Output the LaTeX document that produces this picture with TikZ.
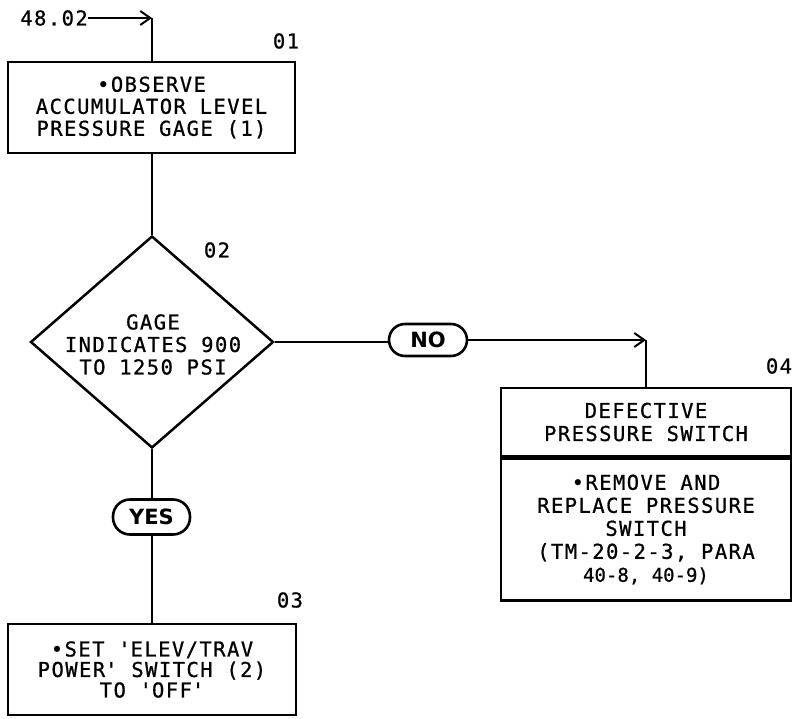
\documentclass[tikz,border=0pt]{standalone}
\usepackage{fontspec}
\usetikzlibrary{shapes.geometric,arrows.meta}
\newfontfamily\plotfont{DejaVu Sans Mono}[LetterSpace=7, FakeBold=0.8]
\newfontfamily\plotnarrow{DejaVu Sans Mono}[FakeBold=0.8]
\newfontfamily\pillfont{DejaVu Sans}
\begin{document}
\begin{tikzpicture}[x=1pt,y=-1pt,
  txt/.style={inner sep=0pt, align=center, font=\plotfont\fontsize{20.5}{22}\selectfont},
  box/.style={txt, draw, line width=2.5pt},
  dia/.style={diamond, draw, line width=2.5pt, inner sep=0pt, minimum width=243pt, minimum height=212pt},
  pill/.style={draw, line width=2.6pt, rounded corners=16pt, inner sep=0pt, font=\pillfont\bfseries\fontsize{21}{22}\selectfont},
  num/.style={inner sep=0pt, font=\plotfont\fontsize{20.5}{22}\selectfont},
  conn/.style={line width=2pt},
  arr/.style={conn, -{Straight Barb[length=10pt,width=14pt]}}
]
\useasboundingbox (0,0) rectangle (798,719);

% entry
\node[num, anchor=east] (t4802) at (88,18) {48.02};
\coordinate (c1) at (152,18);

% box 01
\node[box, minimum width=287pt, minimum height=91pt] (b01) at (151.5,107.5)
  {•OBSERVE\\ACCUMULATOR LEVEL\\PRESSURE GAGE (1)};
\node[num] (l01) at (286,41) {01};

% diamond 02
\node[dia] (d02) at (152,342) {};
\node[txt, font=\plotfont\fontsize{20.5}{22.5}\selectfont] (d02t) at (153,344.5) {GAGE\\INDICATES 900\\TO 1250 PSI};
\node[num] (l02) at (217,250) {02};

% NO pill
\node[pill, minimum width=78pt, minimum height=32pt] (no) at (428,340) {NO};
\coordinate (c2) at (646,340);

% box 04
\node[box, minimum width=290pt, minimum height=68pt, font=\plotfont\fontsize{20.5}{23}\selectfont] (b04a) at (646,422)
  {DEFECTIVE\\PRESSURE SWITCH};
\node[box, minimum width=290pt, minimum height=142pt, font=\plotfont\fontsize{20.5}{23}\selectfont, anchor=north] (b04b) at (b04a.south)
  {•REMOVE AND\\REPLACE PRESSURE\\SWITCH\\(TM-20-2-3, PARA\\{\plotnarrow\fontsize{19}{23}\selectfont 40-8, 40-9)}};
\node[num] (l04) at (779,366) {04};

% YES pill
\node[pill, minimum width=77pt, minimum height=35pt, rounded corners=17pt] (yes) at (151.5,517) {YES};

% box 03
\node[box, minimum width=288pt, minimum height=91pt, font=\plotfont\fontsize{20.5}{20.5}\selectfont] (b03) at (152,669.5)
  {•SET \textquotesingle ELEV/TRAV\\POWER\textquotesingle{} SWITCH (2)\\TO \textquotesingle OFF\textquotesingle};
\node[num] (l03) at (290,600) {03};

% connectors
\draw[arr] (t4802) -- (c1);
\draw[conn] (c1) -- (c1 |- b01.north);
\draw[conn] (c1 |- b01.south) -- (d02.north);
\draw[conn] (d02.east) -- (d02.east -| no.west);
\draw[arr] (no.east |- c2) -- (c2);
\draw[conn] (c2) -- (c2 |- b04a.north);
\draw[conn] (d02.south) -- (d02.south |- yes.north);
\draw[conn] (d02.south |- yes.south) -- (d02.south |- b03.north);
\end{tikzpicture}
\end{document}
